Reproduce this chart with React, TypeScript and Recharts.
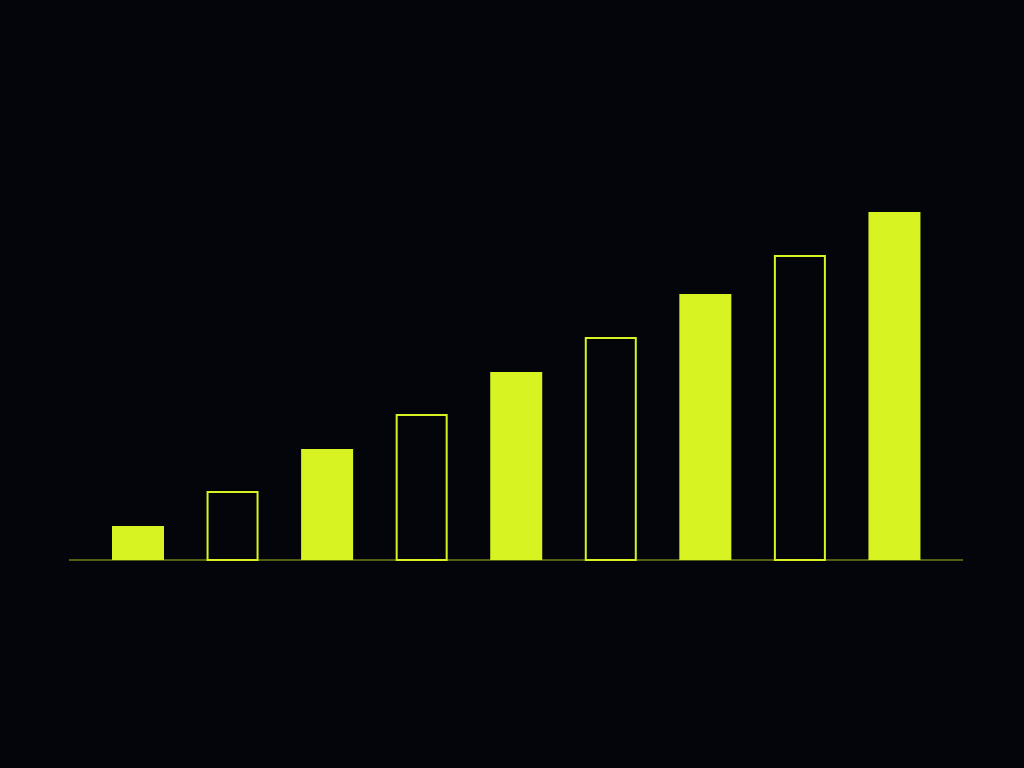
import React from "react";
import { BarChart, Bar, XAxis, YAxis, ReferenceLine } from "recharts";

const categories = ["1", "2", "3", "4", "5", "6", "7", "8", "9"];
const values = [8.5, 17.25, 27.75, 36.5, 47, 55.75, 66.5, 76.25, 87];

const LIME = "#d8f322";
const BG = "#04050a";

const data = categories.map((c, i) => ({ name: c, value: values[i] }));

const BarShape = (props: any) => {
  const { x, y, width, height, index } = props;
  if (index % 2 === 0) {
    return <rect x={x} y={y} width={width} height={height} fill={LIME} />;
  }
  return (
    <rect
      x={x + 1}
      y={y + 1}
      width={width - 2}
      height={height - 1}
      fill="none"
      stroke={LIME}
      strokeWidth={2}
    />
  );
};

export default function App() {
  return (
    <div
      style={{
        position: "fixed",
        left: 0,
        top: 0,
        width: 1024,
        height: 768,
        background: BG,
      }}
    >
      <BarChart
        width={1024}
        height={768}
        data={data}
        margin={{ top: 160, right: 61, bottom: 208, left: 69 }}
      >
        <XAxis
          dataKey="name"
          height={0}
          hide
          padding={{ left: 22, right: 21 }}
        />
        <YAxis hide domain={[0, 100]} />
        <Bar
          dataKey="value"
          barSize={52}
          isAnimationActive={false}
          shape={BarShape}
        />
        <ReferenceLine
          y={0}
          stroke={LIME}
          strokeOpacity={0.75}
          strokeWidth={1}
          ifOverflow="visible"
        />
      </BarChart>
    </div>
  );
}
